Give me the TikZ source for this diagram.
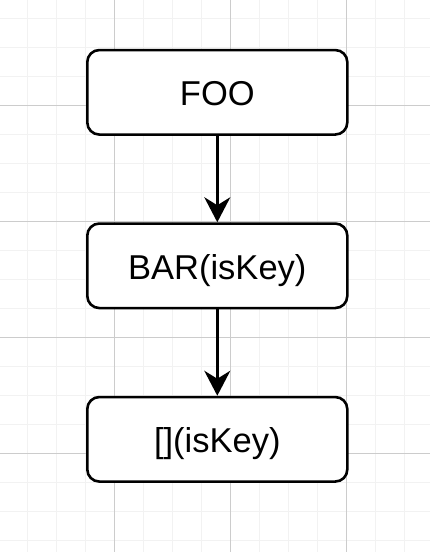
\documentclass[tikz,border=0pt]{standalone}
\usepackage{fontspec}
\setmainfont{Liberation Sans}
\usetikzlibrary{arrows.meta,positioning}

\begin{document}
\begin{tikzpicture}[
  x=1pt, y=1pt,
  node distance=86.4pt,
  box/.style={rectangle, rounded corners=12pt, draw=black, line width=2.6pt, fill=white, minimum width=260pt, minimum height=84.5pt, inner sep=0pt, text height=27pt, text depth=0pt, align=center, font=\fontsize{34.5}{40}\selectfont},
  arr/.style={-{Stealth[length=25pt, width=26pt, inset=8pt]}, line width=2.5pt},
  minorline/.style={line width=1.2pt, black!5},
  majorline/.style={line width=1pt, black!20}]
\useasboundingbox (0,0) rectangle (430,-552);
% background grid
\fill[white] (0,0) rectangle (430,-552);
\foreach \k in {1,...,14} \draw[minorline] (-1.3+29*\k,0) -- ++(0,-552);
\foreach \k in {0,...,18} \draw[minorline] (0,-18.7-29*\k) -- ++(430,0);
\foreach \k in {4,8,12} \draw[majorline] (-1.3+29*\k,0) -- ++(0,-552);
\foreach \k in {3,7,11,15} \draw[majorline] (0,-18.7-29*\k) -- ++(430,0);
% boxes
\node[box] (n1) at (217.3,-92.3) {FOO};
\node[box, below=of n1] (n2) {BAR(isKey)};
\node[box, below=of n2] (n3) {[](isKey)};
\foreach \i/\j in {1/2,2/3} \draw[arr] (n\i) -- (n\j);
\end{tikzpicture}
\end{document}
